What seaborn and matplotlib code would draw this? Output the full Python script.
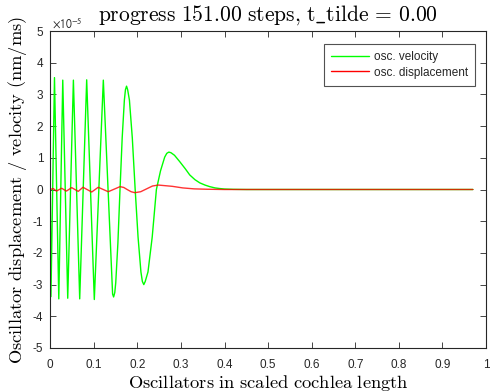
import matplotlib
matplotlib.use("Agg")
import matplotlib.pyplot as plt
import seaborn as sns
import pandas as pd

# ---- data (values in units of 1e-5 nm/ms) ----
vel_x = [0.000, 0.0015, 0.0096, 0.0195, 0.0286, 0.0400, 0.0530, 0.0675, 0.0835,
         0.1010, 0.1217, 0.1430, 0.1453, 0.1480, 0.1502, 0.1551, 0.1600, 0.1650,
         0.1700, 0.1725, 0.1750, 0.1775, 0.1816, 0.1882, 0.1948, 0.2014, 0.2080,
         0.2113, 0.2146, 0.2179, 0.2242, 0.2339, 0.2435, 0.2530, 0.2625, 0.2673,
         0.2720, 0.2770, 0.2850, 0.2970, 0.3100, 0.3200, 0.3320, 0.3430,
         0.3550, 0.3660, 0.3780, 0.3890, 0.4000, 0.4200, 0.4500, 0.9700]
vel_y = [0.00, -3.38, 3.53, -3.45, 3.45, -3.43, 3.45, -3.45, 3.46,
         -3.47, 3.45, -3.30, -3.39, -3.25, -2.94, -1.70, 0.00, 1.63,
         2.82, 3.15, 3.26, 3.15, 2.82, 1.63, 0.00, -1.50, -2.60,
         -2.90, -3.00, -2.90, -2.60, -1.50, 0.00, 0.59, 1.02, 1.14,
         1.18, 1.16, 1.08, 0.88, 0.65, 0.46, 0.31, 0.21,
         0.14, 0.09, 0.05, 0.03, 0.015, 0.005, 0.0, 0.0]

disp_x = [0.000, 0.0069, 0.0140, 0.0260, 0.0370, 0.0490, 0.0640, 0.0750, 0.0950,
          0.1100, 0.1330, 0.1465, 0.1600, 0.1685, 0.1770, 0.1855, 0.1940, 0.2075,
          0.2210, 0.2345, 0.2480, 0.2800, 0.3040, 0.3300, 0.3600, 0.4000, 0.9700]
disp_y = [0.00, 0.03, -0.05, 0.04, -0.05, 0.06, -0.06, 0.07, -0.08,
          0.07, -0.07, 0.01, 0.09, 0.065, -0.005, -0.07, -0.10, -0.07,
          0.02, 0.11, 0.14, 0.10, 0.05, 0.02, 0.008, 0.0, 0.0]

x_ticks = [0, 0.1, 0.2, 0.3, 0.4, 0.5, 0.6, 0.7, 0.8, 0.9, 1]
x_tick_labels = ["0", "0.1", "0.2", "0.3", "0.4", "0.5", "0.6", "0.7", "0.8", "0.9", "1"]
y_ticks = [-5, -4, -3, -2, -1, 0, 1, 2, 3, 4, 5]
y_tick_labels = ["-5", "-4", "-3", "-2", "-1", "0", "1", "2", "3", "4", "5"]

series_labels = ["osc. velocity", "osc. displacement"]
title = r"$\mathrm{progress\ 151.00\ steps{,}\ t\_tilde\,=\,0.00}$"
xlabel = r"$\mathrm{Oscillators\ in\ scaled\ cochlea\ length}$"
ylabel = r"$\mathrm{Oscillator\ displacement\ /\ velocity\ (nm/ms)}$"

# ---- style ----
sns.set_style("ticks")
plt.rcParams["font.family"] = ["Liberation Sans", "DejaVu Sans"]
plt.rcParams["mathtext.fontset"] = "cm"
plt.rcParams["axes.unicode_minus"] = False

fig = plt.figure(figsize=(4.9, 3.92), dpi=100)
ax = fig.add_axes([50.3 / 490, 1 - 348 / 392, (486 - 50.3) / 490, (348 - 31) / 392])

vel_df = pd.DataFrame({"x": vel_x, "y": vel_y})
disp_df = pd.DataFrame({"x": disp_x, "y": disp_y})

sns.lineplot(data=vel_df, x="x", y="y", ax=ax, color="#00ff00", linewidth=1.0,
             sort=False, estimator=None, label=series_labels[0])
sns.lineplot(data=disp_df, x="x", y="y", ax=ax, color="#ff0000", linewidth=1.0,
             alpha=0.8, sort=False, estimator=None, label=series_labels[1])
for ln in ax.get_lines():
    ln.set_solid_joinstyle("round")

ax.set_xlim(0, 1)
ax.set_ylim(-5, 5)
ax.set_xticks(x_ticks)
ax.set_xticklabels(x_tick_labels)
ax.set_yticks(y_ticks)
ax.set_yticklabels(y_tick_labels)

ax.tick_params(direction="in", top=True, right=True, length=4, width=0.6,
               colors="#262626", labelsize=8.5, pad=5)
ax.tick_params(axis="x", pad=8)
for sp in ax.spines.values():
    sp.set_visible(True)
    sp.set_color("#262626")
    sp.set_linewidth(0.8)

ax.set_title(title, fontsize=15.5, pad=7.2, color="black")
ax.set_xlabel(xlabel, fontsize=13.3, color="black", va="top")
ax.set_ylabel(ylabel, fontsize=13.3, color="black")
ax.xaxis.set_label_coords(0.5, -0.078)
ax.yaxis.set_label_coords(-0.050, 0.5)

ax.text(0.003, 1.012, r"$\times10^{-5}$", transform=ax.transAxes, fontsize=8.5,
        math_fontfamily="stixsans", color="#262626", ha="left", va="baseline")

leg = ax.legend(loc="upper right", bbox_to_anchor=(0.975, 0.959), borderaxespad=0,
                fancybox=False, frameon=True, fontsize=8.5, handlelength=3.2,
                handletextpad=0.45, labelspacing=0.3, borderpad=0.6)
leg.get_frame().set_edgecolor("#262626")
leg.get_frame().set_linewidth(0.8)
for h in leg.get_lines():
    h.set_alpha(1.0)

fig.savefig("out.png", dpi=100, facecolor="white")
